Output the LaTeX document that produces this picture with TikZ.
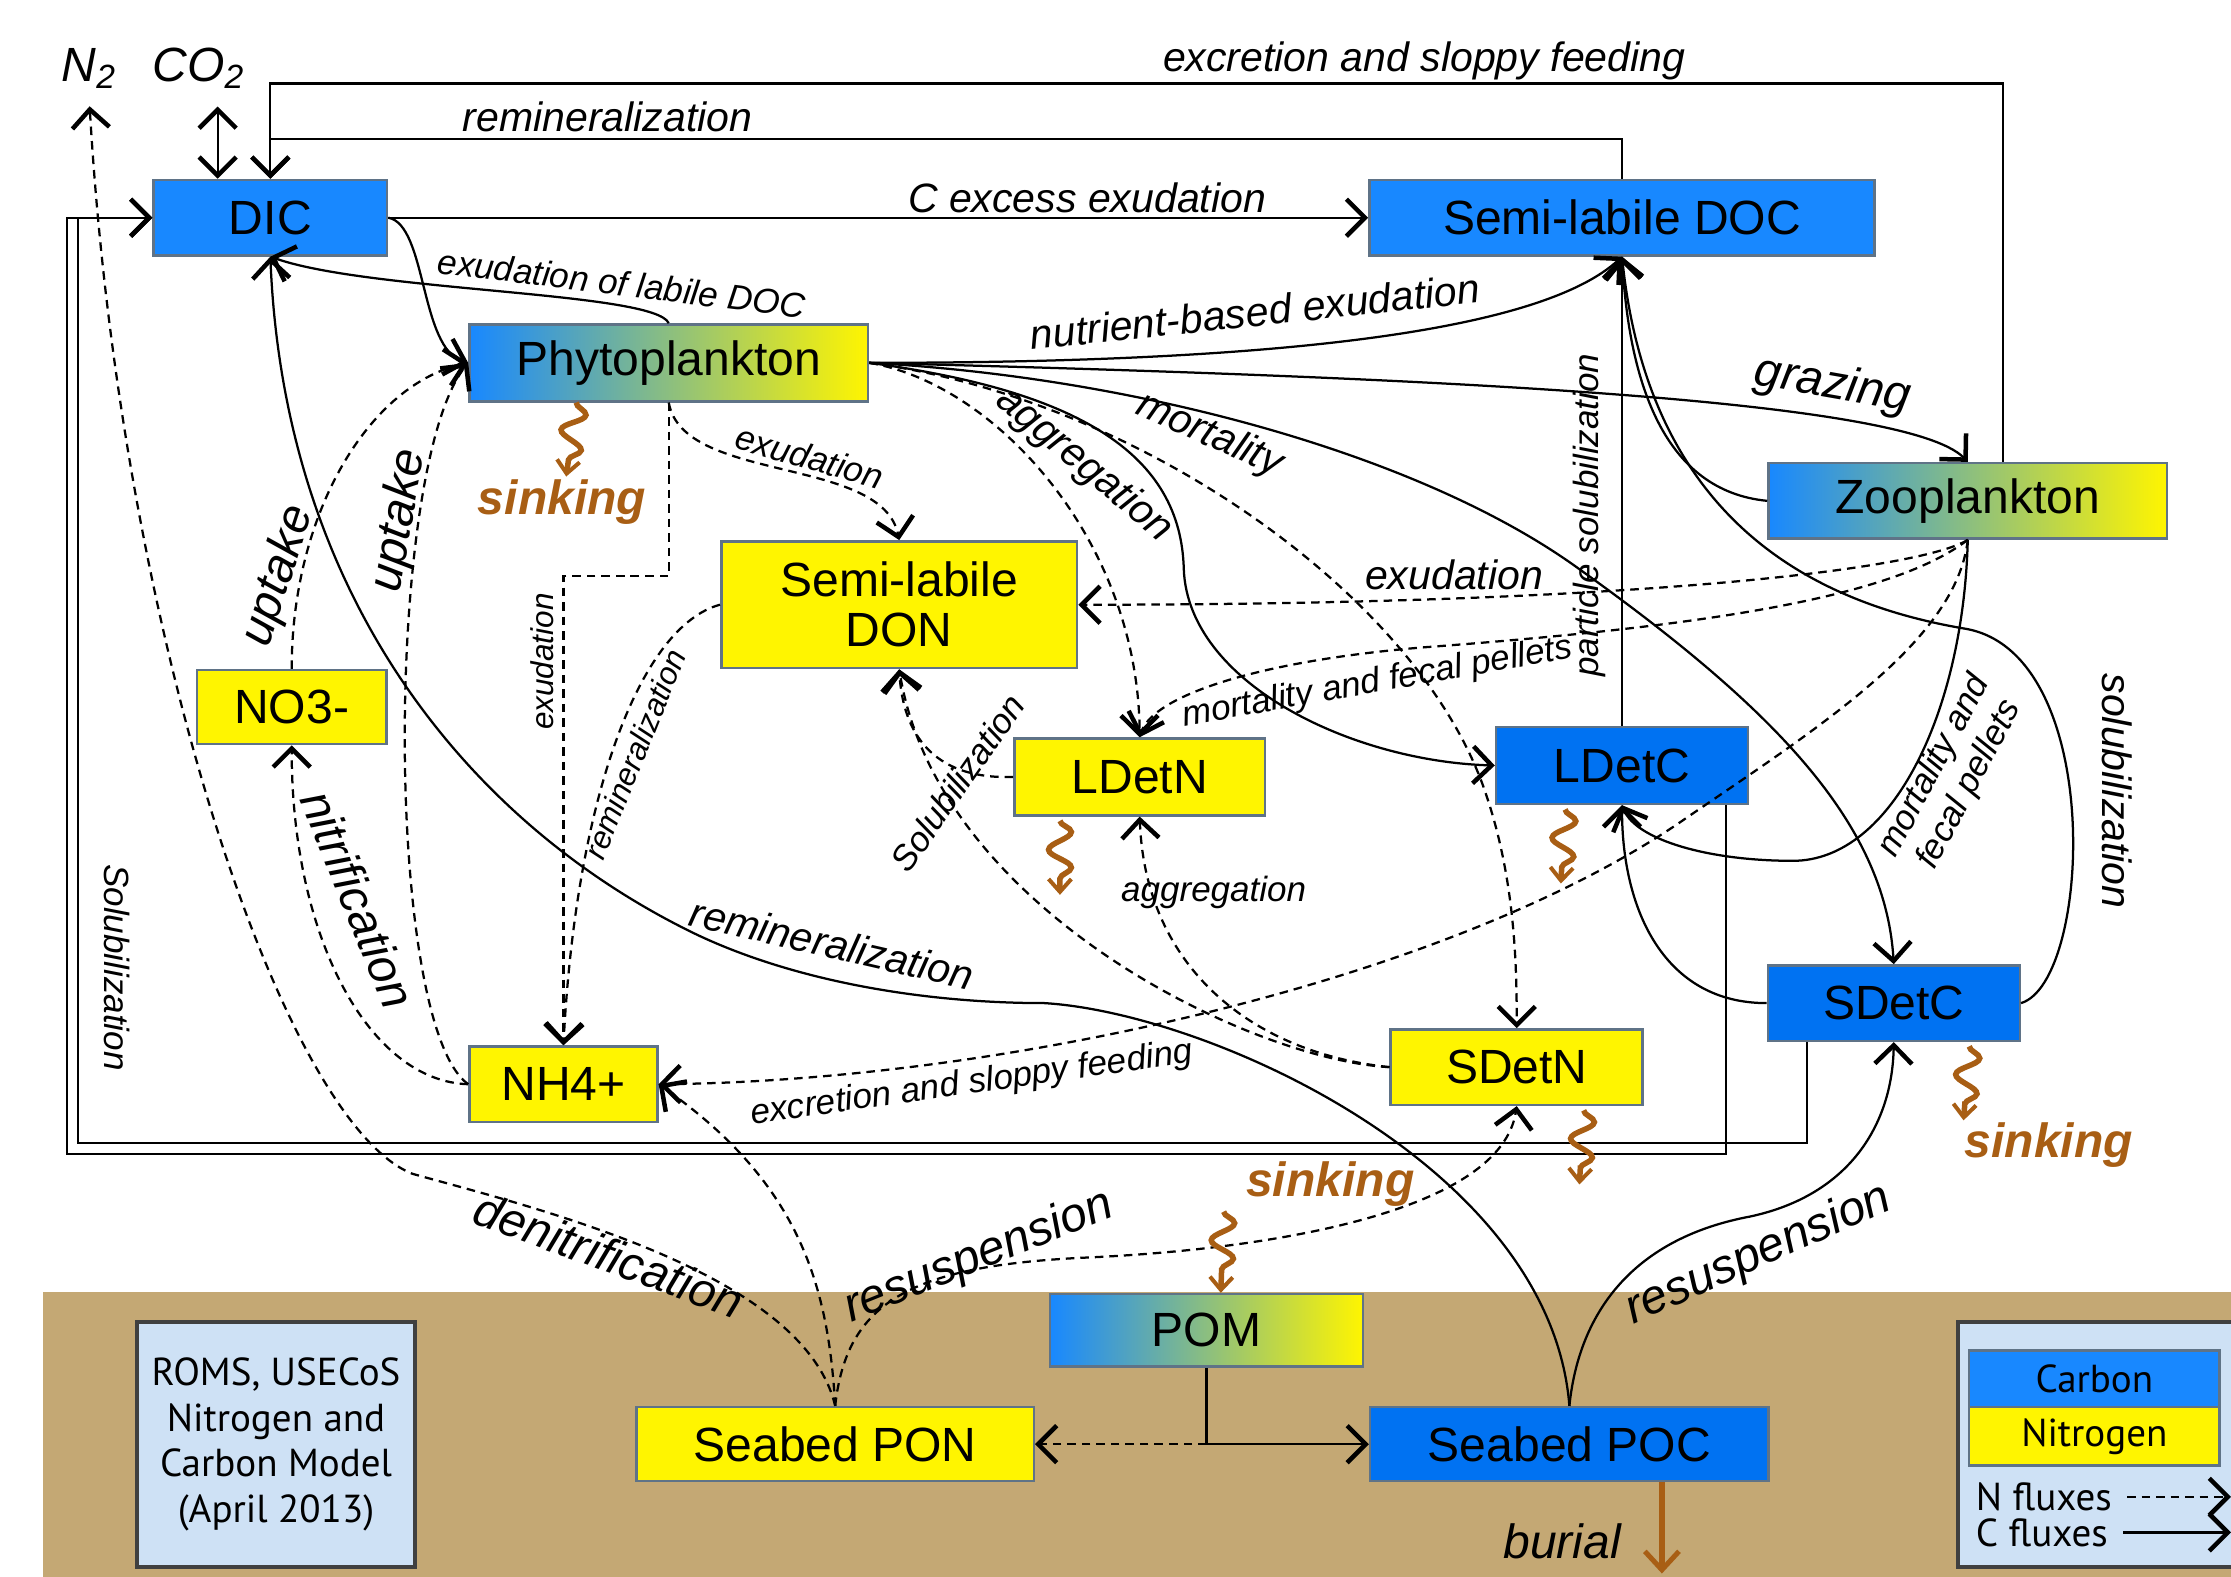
\documentclass[tikz,border=0pt]{standalone}
\usepackage{fontspec}
\setmainfont{Liberation Sans}
\newfontfamily\myriad{PT Sans}
\usepackage{xcolor}
\usetikzlibrary{positioning,arrows.meta,decorations.pathmorphing}
\definecolor{cblue}{RGB}{24,136,255}
\definecolor{cdeep}{RGB}{0,114,242}
\definecolor{nyel}{RGB}{255,245,0}
\definecolor{seabed}{RGB}{196,168,116}
\definecolor{paleblue}{RGB}{206,225,245}
\definecolor{sinkbrown}{RGB}{168,94,20}
\definecolor{boxedge}{RGB}{95,115,135}

\begin{document}
\begin{tikzpicture}[x=0.01cm, y=-0.01cm,
    every node/.append style={font=\fontsize{9.6}{10}\selectfont},
    >={Straight Barb[length=1.3mm,width=2.6mm,line width=0.9pt]},
    pool/.style={draw=boxedge, line width=0.5pt, inner sep=0pt, align=center},
    wh/.style 2 args={minimum width=#1cm, minimum height=#2cm},
    cpool/.style={pool, fill=cblue},
    dpool/.style={pool, fill=cdeep},
    npool/.style={pool, fill=nyel},
    mpool/.style={pool, left color=cblue, right color=nyel},
    cflux/.style={->, line width=0.45pt},
    nflux/.style={->, line width=0.45pt, dash pattern=on 0.6mm off 0.42mm},
    lab/.style={font=\fontsize{8.2}{9}\selectfont\itshape},
    biglab/.style={font=\fontsize{9.6}{11}\selectfont\itshape},
    smalllab/.style={font=\fontsize{7}{8}\selectfont\itshape},
    tinylab/.style={font=\fontsize{6.3}{7}\selectfont\itshape},
    sinklab/.style={font=\fontsize{9.6}{11}\selectfont\bfseries\itshape, text=sinkbrown},
    sink/.style={draw=sinkbrown, line width=1.1pt, decorate,
        decoration={snake, amplitude=0.8mm, segment length=2.5mm, post length=1mm},
        -{Straight Barb[length=0.9mm,width=1.6mm,line width=0.8pt]}},
    burial/.style={draw=sinkbrown, line width=1.1pt,
        -{Straight Barb[length=1.3mm,width=2.4mm,line width=1pt]}},
    infobox/.style={draw=black!75, line width=0.8pt, fill=paleblue, inner sep=0pt, align=center,
        font=\myriad\fontsize{7.8}{9.1}\selectfont},
    legtxt/.style={font=\myriad\fontsize{7.8}{9}\selectfont, inner sep=0pt}]
\useasboundingbox (0,0) rectangle (1568,1108);
\fill[seabed] (30,908) rectangle (1568,1108);

\node[cpool, wh={1.64}{.53}] (dic) at (190,153) {DIC};
\node[cpool, wh={3.55}{.53}] (doc) at (1140,153) {Semi-labile DOC};
\node[mpool, wh={2.80}{.54}] (phyto) at (470,255) {Phytoplankton};
\node[mpool, wh={2.80}{.53}] (zoo) at (1383,352) {Zooplankton};
\node[npool, wh={2.50}{.89}] (don) at (632,425) {Semi-labile\\DON};
\node[npool, wh={1.33}{.52}] (no3) at (205,497) {NO3-};
\node[npool, wh={1.76}{.54}] (ldetn) at (801,546) {LDetN};
\node[dpool, wh={1.77}{.54}] (ldetc) at (1140,538) {LDetC};
\node[dpool, wh={1.77}{.53}] (sdetc) at (1331,705) {SDetC};
\node[npool, wh={1.77}{.53}] (sdetn) at (1066,750) {SDetN};
\node[npool, wh={1.32}{.53}] (nh4) at (396,762) {NH4+};
\node[mpool, wh={2.20}{.51}] (pom) at (848,935) {POM};
\node[npool, wh={2.79}{.52}] (spon) at (587,1015) {Seabed PON};
\node[dpool, wh={2.80}{.52}] (spoc) at (1103,1015) {Seabed POC};

\node[biglab] (n2) at (63,48) {N\textsubscript{2}};
\node[biglab] (co2) at (140,48) {CO\textsubscript{2}};
\coordinate (co2foot) at ([xshift=-3.7mm]dic.north);
\draw[<->, line width=0.45pt] (co2foot) -- (co2foot |- co2.south);

\draw[cflux] (doc.north) -- ++(0,-28) -| (dic.north);
\draw[cflux] ([xshift=2.5mm]zoo.north) -- ++(0,-266) -| (dic.north);
\draw[cflux] (dic.east) -- (doc.west);
\draw[cflux] ([xshift=7.3mm]ldetc.south) -- ++(0,245) -| ([xshift=-6mm]dic.west) -- (dic.west);
\draw[cflux] ([xshift=-6.1mm]sdetc.south) -- ++(0,71) -| ([xshift=-5.2mm]dic.west) -- (dic.west);
\draw[cflux] (dic.east) .. controls (300,158) and (295,245) .. (phyto.west);
\draw[cflux] (phyto.north) .. controls (460,205) and (260,205) .. (dic.south);
\draw[cflux] (phyto.east) .. controls (850,255) and (1075,240) .. (doc.south);
\draw[cflux] (phyto.east) .. controls (1000,265) and (1340,280) .. (zoo.north);
\draw[cflux] (phyto.east) .. controls (760,275) and (830,320) .. (832,400) .. controls (835,480) and (950,535) .. (ldetc.west);
\draw[cflux] (phyto.east) .. controls (800,265) and (1000,320) .. (1110,400) .. controls (1250,500) and (1325,580) .. (sdetc.north);
\draw[cflux] (ldetc.north) -- (doc.south);
\draw[cflux] (zoo.west) .. controls (1170,345) and (1145,270) .. (doc.south);
\draw[cflux] (sdetc.east) .. controls (1470,690) and (1480,460) .. (1382,442) .. controls (1280,425) and (1160,370) .. (doc.south);
\draw[cflux] (zoo.south) .. controls (1380,500) and (1330,605) .. (1260,605) .. controls (1200,605) and (1150,590) .. (ldetc.south);
\draw[cflux] (sdetc.west) .. controls (1170,705) and (1140,640) .. (ldetc.south);
\draw[cflux] (spoc.north) .. controls (1090,820) and (850,712) .. (734,705) .. controls (650,705) and (560,690) .. (490,657) .. controls (330,580) and (200,420) .. (dic.south);
\draw[cflux] (spoc.north) .. controls (1110,920) and (1150,870) .. (1230,855) .. controls (1300,840) and (1330,790) .. (sdetc.south);
\draw[cflux] (pom.south) |- (spoc.west);

\draw[nflux] (phyto.south) .. controls (480,340) and (620,320) .. (don.north);
\draw[nflux] (phyto.south) -- ++(0,122) -| (nh4.north);
\draw[nflux] (phyto.east) .. controls (700,270) and (800,380) .. (ldetn.north);
\draw[nflux] (phyto.east) .. controls (800,280) and (1000,420) .. (1045,560) .. controls (1065,620) and (1066,680) .. (sdetn.north);
\draw[nflux] (no3.north) .. controls (205,360) and (260,270) .. (phyto.west);
\draw[nflux] (nh4.west) .. controls (270,720) and (270,330) .. (phyto.west);
\draw[nflux] (nh4.west) .. controls (260,760) and (205,660) .. (no3.south);
\draw[nflux] (don.west) .. controls (450,440) and (405,560) .. (nh4.north);
\draw[nflux] (ldetn.west) .. controls (660,548) and (635,520) .. (don.south);
\draw[nflux] (sdetn.west) .. controls (880,745) and (660,640) .. (don.south);
\draw[nflux] (sdetn.west) .. controls (880,740) and (805,680) .. (ldetn.south);
\draw[nflux] (zoo.south) .. controls (1350,400) and (1150,425) .. (don.east);
\draw[nflux] (zoo.south) .. controls (1330,420) and (1200,440) .. (1000,455) .. controls (880,465) and (810,490) .. (ldetn.north);
\draw[nflux] (zoo.south) .. controls (1375,450) and (1280,510) .. (1185,575) .. controls (1020,690) and (700,760) .. (nh4.east);
\draw[nflux] (spon.north) .. controls (582,900) and (560,830) .. (nh4.east);
\draw[nflux] (spon.north) .. controls (595,915) and (640,890) .. (760,884) .. controls (900,878) and (1055,850) .. (sdetn.south);
\draw[nflux] (spon.north) .. controls (565,895) and (380,850) .. (290,825) .. controls (200,790) and (85,450) .. (n2.south);
\draw[nflux] (pom.south |- spon.east) -- (spon.east);

\draw[sink] ([xshift=-6.5mm]phyto.south) -- ++(-7,52);
\draw[sink] ([xshift=-5.6mm,yshift=-0.3mm]ldetn.south) -- ++(0,52);
\draw[sink] ([xshift=-4mm,yshift=-0.3mm]ldetc.south) -- ++(-3,52);
\draw[sink] ([xshift=4.7mm,yshift=-0.3mm]sdetn.south) -- ++(-3,52);
\draw[sink] ([xshift=5.3mm,yshift=-0.3mm]sdetc.south) -- ++(-4,52);
\draw[sink] ([xshift=1.2mm,yshift=5.7mm]pom.north) -- ([xshift=1mm]pom.north);
\draw[burial] ([xshift=6.5mm]spoc.south) -- ++(0,64);

\node[lab] (lexcr) at (1001,43) {excretion and sloppy feeding};
\node[lab] (lremin) at (427,82) {remineralization};
\node[lab] (lcex) at (764,139) {C excess exudation};
\node[smalllab, rotate=-7] (llab) at (437,199) {exudation of labile DOC};
\node[lab, rotate=6] (lnut) at (882,219) {nutrient-based exudation};
\node[biglab, rotate=-10] (lgraz) at (1288,271) {grazing};
\node[lab, rotate=-40] (lagg) at (762,327) {aggregation};
\node[lab, rotate=-24] (lmort) at (850,306) {mortality};
\node[smalllab, rotate=-16] (lexphy) at (569,321) {exudation};
\node[sinklab] (lsink) at (395,353) {sinking};
\node[biglab, rotate=72] (lup) at (196,405) {uptake};
\node[biglab, rotate=80] (lupb) at (281,366) {uptake};
\node[tinylab, rotate=90] (lexv) at (381,465) {exudation};
\node[tinylab, rotate=68] (lremv) at (446,530) {remineralization};
\node[smalllab, rotate=90] (lpart) at (1117,362) {particle solubilization};
\node[lab] (lexzoo) at (1022,404) {exudation};
\node[smalllab, rotate=10] (lmfp) at (968,480) {mortality and fecal pellets};
\node[smalllab, rotate=62, align=center] (lmfpc) at (1372,545) {mortality and\\fecal pellets};
\node[lab, rotate=-90] (lsolr) at (1488,556) {solubilization};
\node[smalllab, rotate=55] (lsolm) at (673,550) {Solubilization};
\node[smalllab] (laggl) at (853,627) {aggregation};
\node[biglab, rotate=-68] (lnit) at (252,632) {nitrification};
\node[smalllab, rotate=-90] (lsoll) at (82,680) {Solubilization};
\node[lab, rotate=-13] (lremm) at (585,663) {remineralization};
\node[smalllab, rotate=8] (lexcl) at (683,762) {excretion and sloppy feeding};
\node[sinklab] (lsinkc) at (1440,805) {sinking};
\node[sinklab] (lsinkp) at (935,832) {sinking};
\node[biglab, rotate=-20] (ldenit) at (428,882) {denitrification};
\node[biglab, rotate=22] (lresn) at (688,884) {resuspension};
\node[biglab, rotate=24] (lresc) at (1236,882) {resuspension};
\node[biglab] (lbur) at (1098,1083) {burial};

\node[infobox, wh={1.95}{1.72}] (roms) at (194,1015) {ROMS, USECoS\\Nitrogen and\\Carbon Model\\(April 2013)};
\node[draw=black!75, line width=0.8pt, fill=paleblue, wh={2.04}{1.72}] (leg) at (1478,1015) {};
\node[cpool, wh={1.76}{.40}, font=\myriad\fontsize{7.8}{9}\selectfont] (legc) at (1472,969) {Carbon};
\node[npool, wh={1.76}{.41}, font=\myriad\fontsize{7.8}{9}\selectfont] (legn) at (1472,1009.5) {Nitrogen};
\node[legtxt, anchor=west] (nfl) at (1388,1052) {N fluxes};
\node[legtxt, anchor=west] (cfl) at (1388,1077) {C fluxes};
\coordinate (legend tip) at (1558,1060);
\draw[nflux] ([xshift=1mm]nfl.east) -- ([xshift=1mm]nfl.east -| legend tip);
\draw[cflux] ([xshift=1mm]cfl.east) -- ([xshift=1mm]cfl.east -| legend tip);
\end{tikzpicture}
\end{document}
